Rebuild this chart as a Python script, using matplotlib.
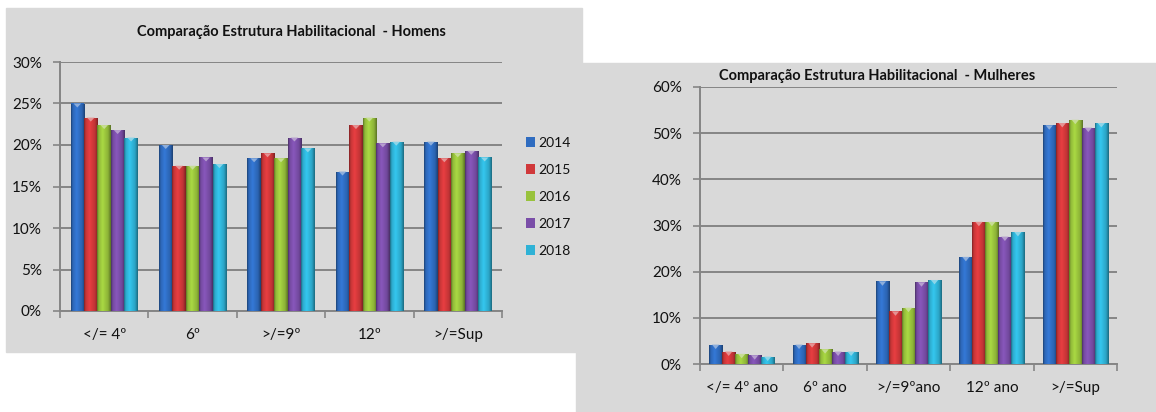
import matplotlib
matplotlib.use('Agg')
import matplotlib.pyplot as plt
import numpy as np
from matplotlib.patches import Rectangle, Patch, Polygon
from matplotlib.colors import to_rgb

plt.rcParams['font.family'] = ['Lato', 'DejaVu Sans']

years = ['2014', '2015', '2016', '2017', '2018']
colors = ['#2f6cc0', '#d0383a', '#98c23c', '#7a4ea8', '#2fb2d6']

cats_homens = ['</= 4º', '6º', '>/=9º', '12º', '>/=Sup']
homens_2014 = [25.0, 20.0, 18.4, 16.8, 20.4]
homens_2015 = [23.3, 17.5, 19.0, 22.4, 18.4]
homens_2016 = [22.4, 17.5, 18.4, 23.3, 19.0]
homens_2017 = [21.8, 18.5, 20.9, 20.2, 19.3]
homens_2018 = [20.9, 17.7, 19.6, 20.4, 18.5]

cats_mulheres = ['</= 4º ano', '6º ano', '>/=9ºano', '12º ano', '>/=Sup']
mulheres_2014 = [4.2, 4.2, 17.9, 23.2, 51.7]
mulheres_2015 = [2.7, 4.5, 11.4, 30.8, 52.2]
mulheres_2016 = [2.2, 3.2, 12.2, 30.8, 52.9]
mulheres_2017 = [1.9, 2.7, 17.7, 27.6, 51.2]
mulheres_2018 = [1.6, 2.7, 18.2, 28.6, 52.2]

W, H = 1156, 412
BG = '#d9d9d9'
GRID = '#858585'
TXT = '#111111'


def px(x0, y0, x1, y1):
    # pixel box (top-left origin) -> figure fraction [l, b, w, h]
    return [x0 / W, 1 - y1 / H, (x1 - x0) / W, (y1 - y0) / H]


def shade_bars(ax, bars, color, ymax):
    # fake the excel 3D bevel: horizontal gradient + light chevron on top
    base = np.array(to_rgb(color))
    prof = np.interp(np.linspace(0, 1, 40), [0, 0.12, 0.4, 0.8, 1], [0.62, 0.95, 1.12, 0.92, 0.6])
    grad = np.clip(base[None, :] * prof[:, None], 0, 1)[None, :, :]
    light = np.clip(base + (1 - base) * 0.45, 0, 1)
    for b in bars:
        x0, w, h = b.get_x(), b.get_width(), b.get_height()
        im = ax.imshow(grad, extent=(x0, x0 + w, 0, h), aspect='auto', zorder=3, interpolation='bilinear')
        im.set_clip_path(b)
        dy = 0.016 * ymax
        tri = Polygon([(x0 + 0.22 * w, h), (x0 + 0.78 * w, h), (x0 + 0.5 * w, h - dy)],
                      closed=True, color=light, zorder=4, lw=0)
        ax.add_patch(tri)


def draw_chart(ax, cats, series, ymax, step, bar_w):
    x = np.arange(len(cats))
    for i, (vals, c) in enumerate(zip(series, colors)):
        bars = ax.bar(x + (i - 2) * bar_w, vals, bar_w, color=c, zorder=2, lw=0)
        shade_bars(ax, bars, c, ymax)
    ax.set_xlim(-0.5, len(cats) - 0.5)
    ax.set_ylim(0, ymax)
    ax.set_facecolor('none')
    ax.set_yticks(np.arange(0, ymax + 1, step))
    ax.set_yticklabels([f'{int(v)}%' for v in np.arange(0, ymax + 1, step)])
    ax.yaxis.grid(True, color=GRID, lw=1.4, zorder=1)
    ax.set_axisbelow(True)
    ax.set_xticks(np.arange(-0.5, len(cats)), minor=False)
    ax.set_xticklabels([])
    ax.set_xticks(x, minor=True)
    ax.set_xticklabels(cats, minor=True)
    ax.tick_params(axis='x', which='major', length=5, color=GRID, width=1.2)
    ax.tick_params(axis='x', which='minor', length=0, pad=12, labelsize=11, labelcolor=TXT)
    ax.tick_params(axis='y', length=5, color=GRID, width=1.2, pad=8, labelsize=11, labelcolor=TXT)
    for s in ['top', 'right']:
        ax.spines[s].set_visible(False)
    for s in ['left', 'bottom']:
        ax.spines[s].set_color(GRID)
        ax.spines[s].set_linewidth(1.4)


fig = plt.figure(figsize=(W / 100, H / 100), dpi=100)
fig.patch.set_facecolor('white')

# grey chart panels
for box in [(6, 8, 582, 352), (576, 63, 1156, 412)]:
    l, b, w, h = px(*box)
    fig.patches.append(Rectangle((l, b), w, h, transform=fig.transFigure,
                                 color=BG, zorder=-10))

ax1 = fig.add_axes(px(60, 62, 502, 311))
draw_chart(ax1, cats_homens,
           [homens_2014, homens_2015, homens_2016, homens_2017, homens_2018],
           30, 5, 0.152)
fig.text(291 / W, 1 - 32 / H, 'Comparação Estrutura Habilitacional  - Homens',
         ha='center', va='center', fontsize=10.5, fontweight='bold', color=TXT)

handles = [Patch(facecolor=c, edgecolor='none') for c in colors]
fig.legend(handles, years, loc='center left', bbox_to_anchor=(513 / W, 1 - 197 / H),
           frameon=False, fontsize=10, labelspacing=1.08, handlelength=0.65, handleheight=0.65,
           handletextpad=0.3, labelcolor=TXT)

ax2 = fig.add_axes(px(700, 87, 1117, 364))
draw_chart(ax2, cats_mulheres,
           [mulheres_2014, mulheres_2015, mulheres_2016, mulheres_2017, mulheres_2018],
           60, 10, 0.156)
fig.text(877 / W, 1 - 76 / H, 'Comparação Estrutura Habilitacional  - Mulheres',
         ha='center', va='center', fontsize=10.5, fontweight='bold', color=TXT)

fig.savefig('out.png', dpi=100, facecolor='white')
